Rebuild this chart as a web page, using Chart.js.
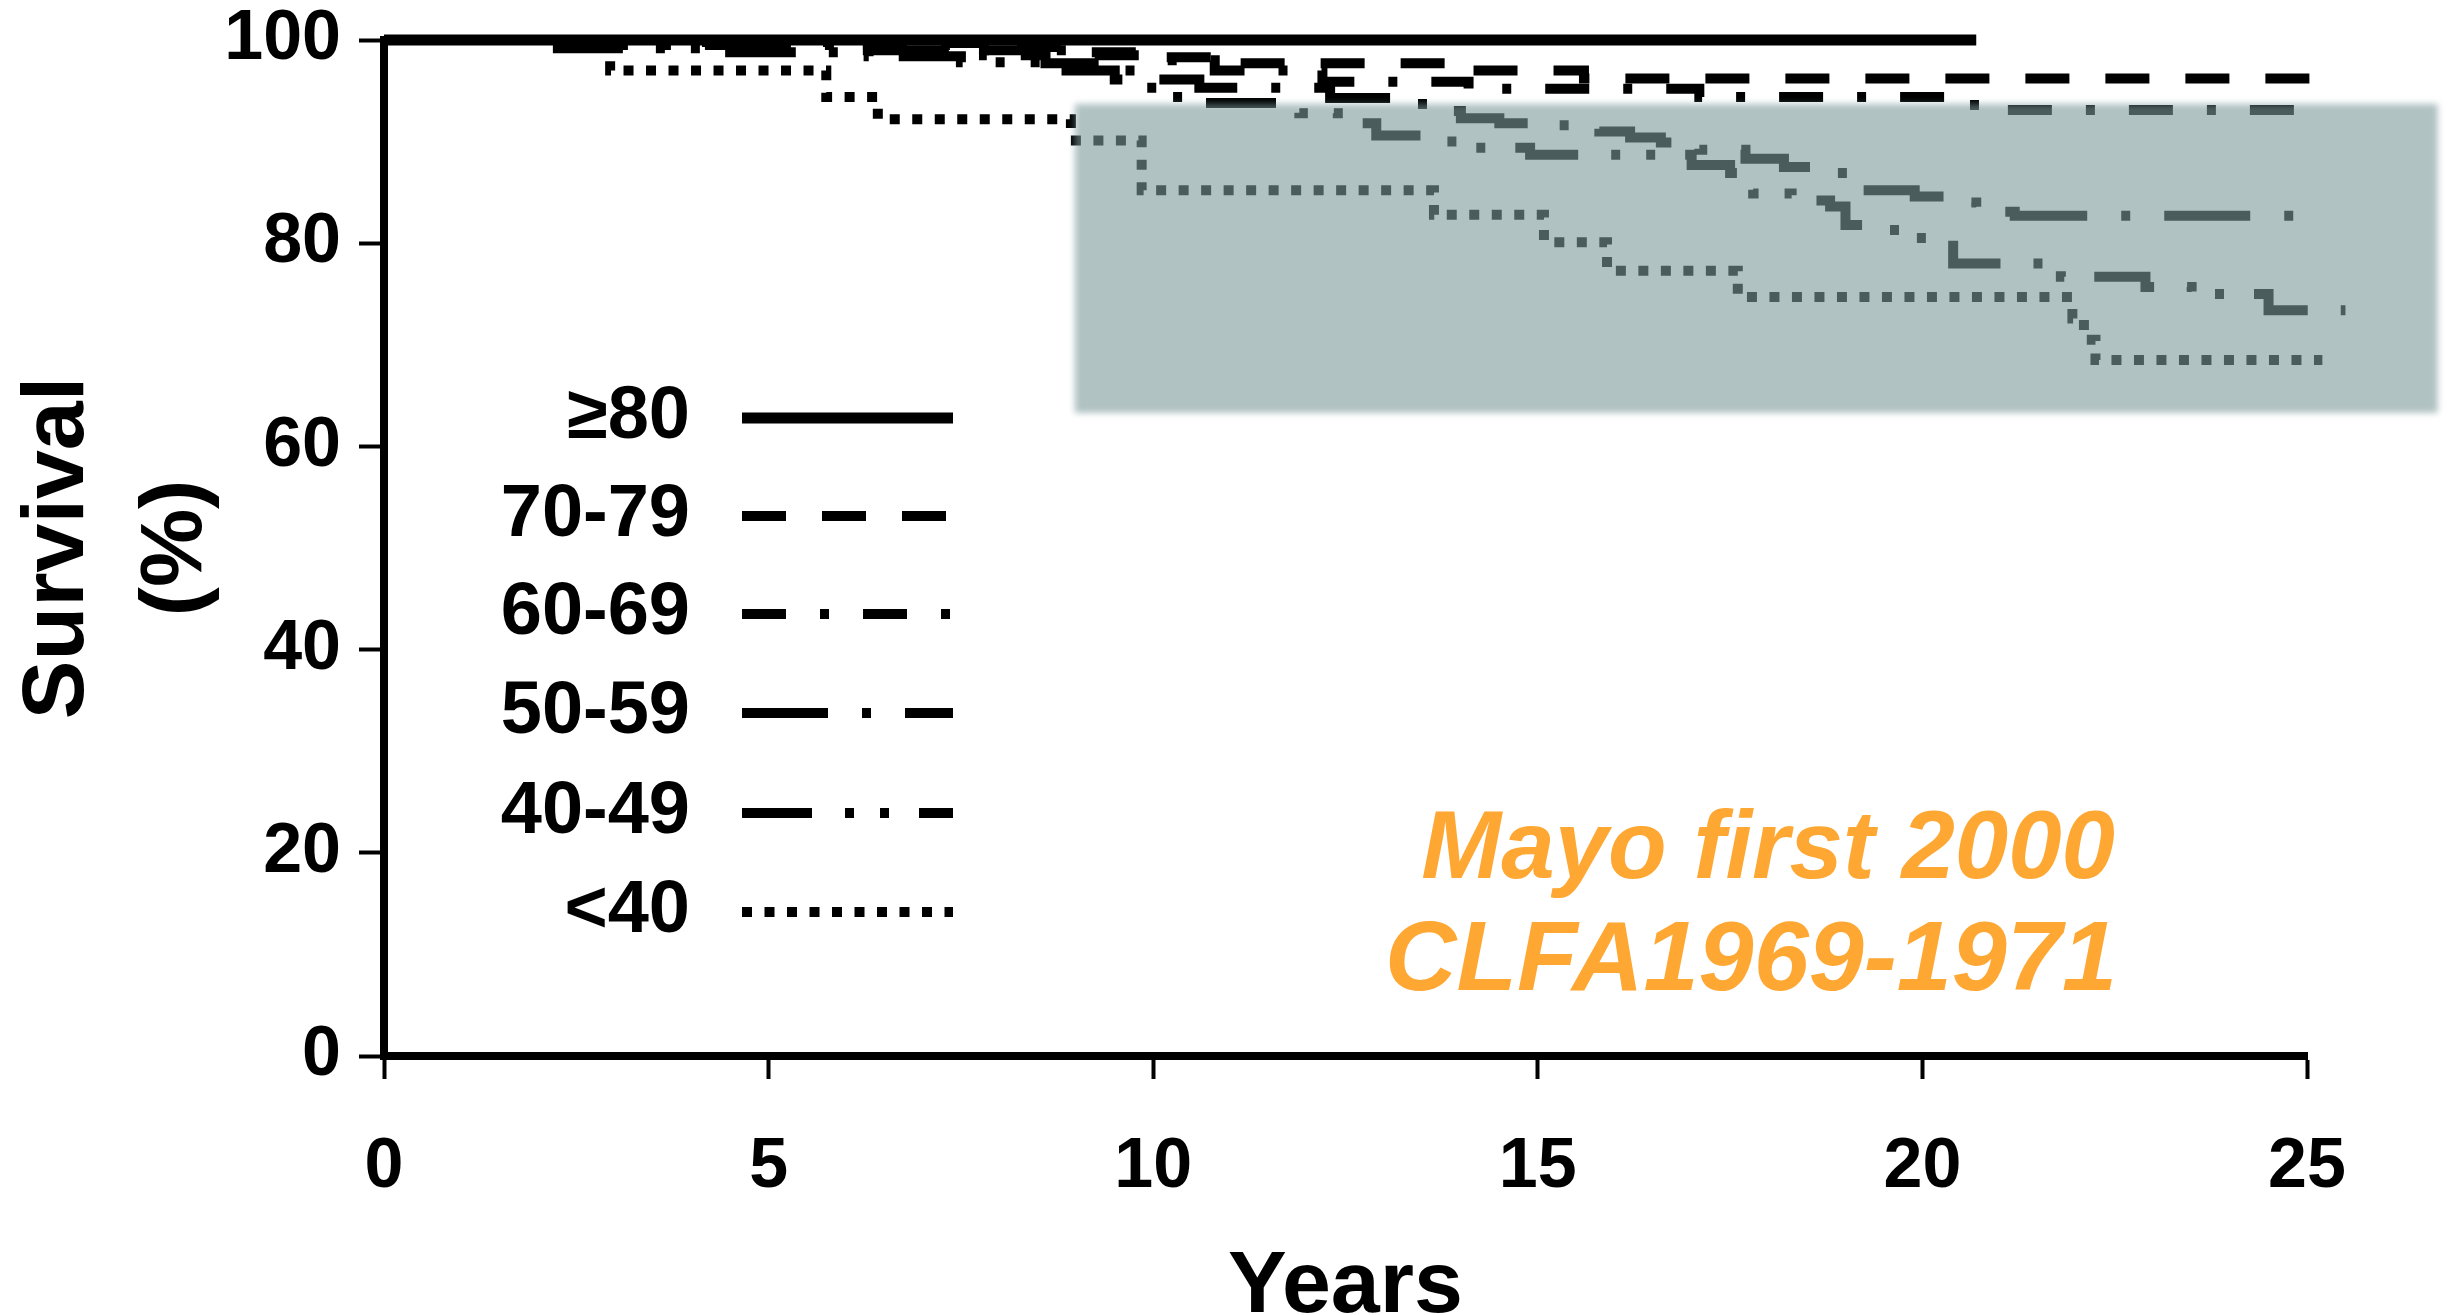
<!DOCTYPE html>
<html>
<head>
<meta charset="utf-8">
<script src="https://cdn.jsdelivr.net/npm/chart.js@4.4.1/dist/chart.umd.min.js"></script>
<style>
html,body{margin:0;padding:0;background:#ffffff;}
#wrap{width:2454px;height:1315px;}
</style>
</head>
<body>
<div id="wrap"><canvas id="c" width="2454" height="1315"></canvas></div>
<script>
// ---------- data ----------
const seriesLabels = ['≥80', '70-79', '60-69', '50-59', '40-49', '<40'];

const years_ge80 = [0, 20.7];
const surv_ge80  = [100, 100];

const years_70_79 = [0, 6.5, 8.0, 9.0, 10.0, 10.9, 14.0, 15.6, 25.2];
const surv_70_79  = [100, 99.7, 99.3, 98.8, 98.3, 97.7, 97.0, 96.2, 96.2];

const years_60_69 = [0, 4.0, 6.0, 7.8, 9.0, 10.0, 10.8, 12.2, 14.1, 17.1, 20.3, 20.8, 25.0];
const surv_60_69  = [100, 99.8, 99.5, 99.0, 98.5, 98.0, 97.0, 95.9, 95.2, 94.4, 93.6, 93.1, 93.1];

const years_50_59 = [0, 3.0, 6.0, 7.8, 8.6, 9.4, 10.0, 10.6, 12.3, 13.2, 13.6, 14.0, 14.5, 15.1, 15.8, 16.2, 16.6, 17.1, 17.7, 18.2, 18.6, 19.1, 19.9, 20.3, 20.7, 21.2, 25.2];
const surv_50_59  = [100, 99.5, 99.0, 98.5, 97.7, 97.0, 96.1, 95.3, 94.3, 93.7, 93.0, 92.3, 91.8, 91.6, 91.0, 90.4, 89.9, 89.2, 88.3, 87.5, 86.9, 85.2, 84.6, 84.0, 83.1, 82.7, 82.7];

const years_40_49 = [0, 2.0, 4.5, 6.3, 7.5, 8.8, 9.5, 9.9, 10.1, 10.5, 11.9, 12.4, 12.9, 13.5, 14.0, 14.9, 17.0, 17.5, 17.8, 18.3, 18.8, 19.0, 19.5, 19.9, 20.4, 21.8, 22.9, 23.5, 24.5, 25.5];
const surv_40_49  = [100, 99.2, 98.8, 98.4, 97.8, 97.0, 96.1, 95.3, 94.4, 93.8, 92.8, 91.8, 90.6, 90.0, 89.4, 88.7, 87.7, 86.9, 84.9, 84.2, 83.6, 81.8, 81.3, 80.5, 78.0, 76.7, 75.7, 75.0, 73.4, 73.4];

const years_lt40 = [0, 2.94, 5.75, 6.42, 8.93, 9.85, 13.65, 15.08, 15.9, 17.6, 21.95, 22.1, 22.25, 25.2];
const surv_lt40  = [100, 97.0, 94.4, 92.2, 90.1, 85.2, 82.8, 80.1, 77.3, 74.7, 72.6, 70.5, 68.5, 68.5];

const xTicks = [0, 5, 10, 15, 20, 25];
const yTicks = [0, 20, 40, 60, 80, 100];

const xTitle = 'Years';
const yTitle = ['Survival', '(%)'];
const noteLines = ['Mayo first 2000', 'CLFA1969-1971'];

// highlighted region, in data units
const highlight = {x0: 8.98, x1: 26.7, y0: 63.3, y1: 93.7};

// ---------- build ----------
function pts(xs, ys) { return xs.map((v, i) => ({x: v, y: ys[i]})); }

const seriesX = [years_ge80, years_70_79, years_60_69, years_50_59, years_40_49, years_lt40];
const seriesY = [surv_ge80, surv_70_79, surv_60_69, surv_50_59, surv_40_49, surv_lt40];
const dashes = [
  [],
  [44, 36],
  [44, 34, 9, 34],
  [86, 34, 9, 34],
  [70, 33, 9, 26, 9, 30],
  [10, 12.5]
];
const widths = [11, 10, 10, 10, 10, 10];

const FONT = '"Liberation Sans", Arial, Helvetica, sans-serif';

const datasets = seriesLabels.map((lab, i) => ({
  label: lab,
  data: pts(seriesX[i], seriesY[i]),
  borderColor: '#000000',
  backgroundColor: '#000000',
  borderWidth: widths[i],
  borderDash: dashes[i],
  borderCapStyle: 'butt',
  borderJoinStyle: 'miter',
  pointRadius: 0,
  pointHoverRadius: 0,
  stepped: 'before',
  fill: false,
  clip: false,
  tension: 0
}));

const boxPlugin = {
  id: 'highlightBox',
  afterDatasetsDraw(chart) {
    const {ctx, scales: {x, y}} = chart;
    const L = x.getPixelForValue(highlight.x0), R = x.getPixelForValue(highlight.x1);
    const T = y.getPixelForValue(highlight.y1), B = y.getPixelForValue(highlight.y0);
    ctx.save();
    ctx.filter = 'blur(3px)';
    ctx.fillStyle = 'rgba(125,153,155,0.6)';
    ctx.fillRect(L, T, R - L, B - T);
    ctx.restore();
  }
};

const legendRows = [418, 516, 614, 713, 813, 912];
const legendPlugin = {
  id: 'inLegend',
  afterDraw(chart) {
    const ctx = chart.ctx;
    ctx.save();
    chart.data.datasets.forEach((ds, i) => {
      const yy = legendRows[i];
      ctx.font = 'bold 74px ' + FONT;
      ctx.textAlign = 'right';
      ctx.textBaseline = 'middle';
      ctx.fillStyle = '#000';
      ctx.fillText(ds.label, 690, yy);
      ctx.strokeStyle = '#000';
      ctx.lineWidth = ds.borderWidth;
      ctx.lineCap = 'butt';
      ctx.setLineDash(ds.borderDash || []);
      ctx.beginPath();
      ctx.moveTo(742, yy);
      ctx.lineTo(953, yy);
      ctx.stroke();
    });
    ctx.setLineDash([]);
    // annotation
    ctx.fillStyle = '#FFA733';
    ctx.textAlign = 'right';
    ctx.textBaseline = 'alphabetic';
    ctx.font = 'italic bold 96px ' + FONT;
    ctx.fillText(noteLines[0], 2115, 878);
    ctx.font = 'italic bold 99px ' + FONT;
    ctx.fillText(noteLines[1], 2117, 990);
    ctx.restore();
  }
};

Chart.defaults.font.family = FONT;
Chart.defaults.color = '#000';

new Chart(document.getElementById('c'), {
  type: 'line',
  data: {datasets},
  options: {
    responsive: false,
    maintainAspectRatio: false,
    devicePixelRatio: 1,
    animation: false,
    events: [],
    layout: {padding: {left: 0, top: 40, right: 147, bottom: 0}},
    plugins: {legend: {display: false}, tooltip: {enabled: false}, title: {display: false}},
    scales: {
      x: {
        type: 'linear',
        min: 0, max: 25,
        afterFit(scale) { scale.height = 259; scale.paddingLeft = 0; scale.paddingRight = 0; },
        afterBuildTicks(scale) { scale.ticks = xTicks.map(v => ({value: v})); },
        ticks: {
          font: {size: 70, weight: 'bold', lineHeight: 1},
          color: '#000',
          padding: 54,
          maxRotation: 0,
          autoSkip: false
        },
        grid: {display: true, drawOnChartArea: false, drawTicks: true, tickLength: 23, tickWidth: 4, tickColor: '#000', color: '#000'},
        border: {display: true, color: '#000', width: 8},
        title: {display: true, text: xTitle, font: {size: 88, weight: 'bold', lineHeight: 0.62}, color: '#000', padding: 0}
      },
      y: {
        type: 'linear',
        min: 0, max: 100,
        afterFit(scale) { scale.width = 384; scale.paddingTop = 0; scale.paddingBottom = 0; },
        afterBuildTicks(scale) { scale.ticks = yTicks.map(v => ({value: v})); },
        ticks: {
          font: {size: 70, weight: 'bold', lineHeight: 1},
          color: '#000',
          padding: 18,
          autoSkip: false
        },
        grid: {display: true, drawOnChartArea: false, drawTicks: true, tickLength: 25, tickWidth: 4, tickColor: '#000', color: '#000'},
        border: {display: true, color: '#000', width: 8},
        title: {display: true, text: yTitle, font: {size: 88, weight: 'bold', lineHeight: 1.34}, color: '#000', padding: 0}
      }
    }
  },
  plugins: [boxPlugin, legendPlugin]
});
</script>
</body>
</html>
